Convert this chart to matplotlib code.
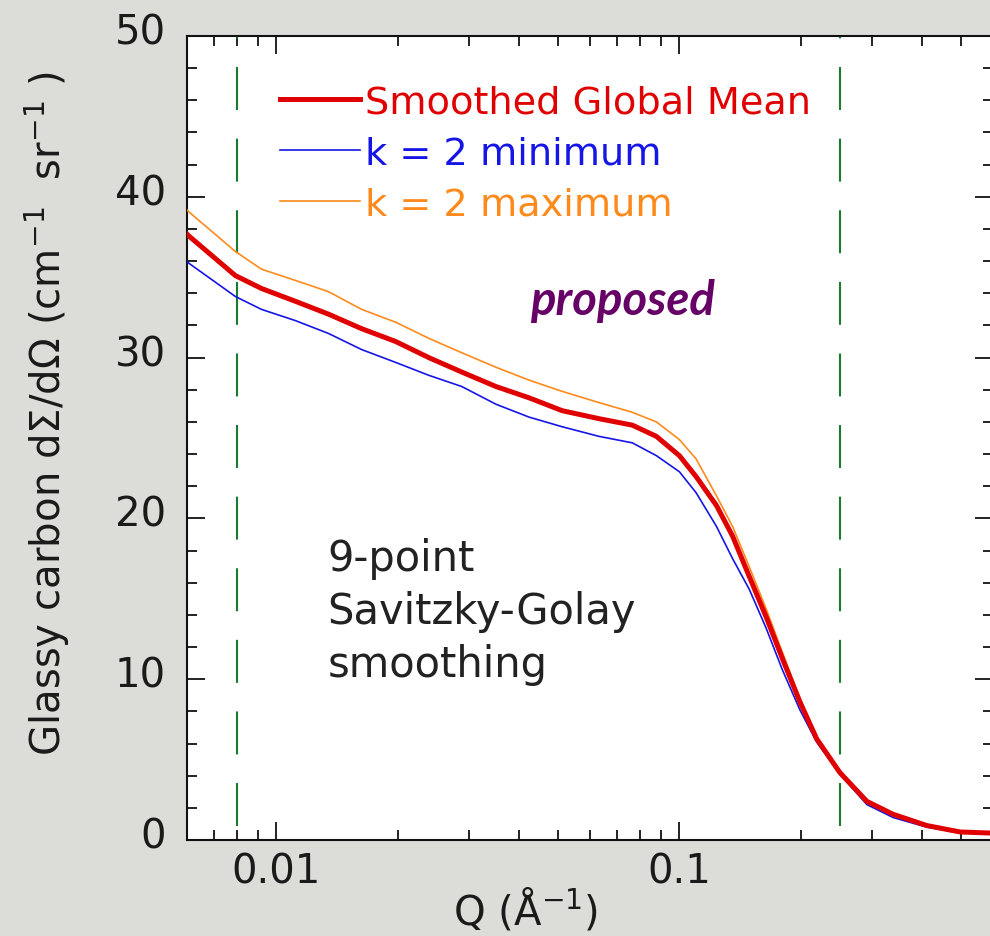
import matplotlib
matplotlib.use("Agg")
import matplotlib.pyplot as plt
from matplotlib.ticker import FixedLocator, NullFormatter, MultipleLocator
from matplotlib.transforms import ScaledTranslation

plt.rcParams['font.family'] = ['DejaVu Sans']
plt.rcParams['lines.scale_dashes'] = False

# ---- data ----
q = [0.00594, 0.00604, 0.00791, 0.00918, 0.01115, 0.01347, 0.01627, 0.01977, 0.02388,
     0.02885, 0.03506, 0.04235, 0.05117, 0.0632, 0.0764, 0.0877, 0.100, 0.110,
     0.1236, 0.1355, 0.149, 0.164, 0.180, 0.199, 0.219, 0.250, 0.292, 0.339,
     0.411, 0.497, 0.61]
mean = [37.8, 37.6, 35.1, 34.3, 33.5, 32.7, 31.8, 31.0, 30.0, 29.1, 28.2, 27.5, 26.7,
        26.2, 25.8, 25.1, 23.9, 22.6, 20.8, 18.9, 16.4, 13.9, 11.3, 8.6, 6.3, 4.2,
        2.4, 1.6, 0.9, 0.5, 0.42]
kmin = [36.1, 35.9, 33.8, 33.0, 32.3, 31.5, 30.5, 29.7, 28.9, 28.2, 27.1, 26.3, 25.7,
        25.1, 24.7, 23.9, 22.9, 21.6, 19.5, 17.5, 15.6, 13.2, 10.6, 8.1, 6.1, 4.1,
        2.2, 1.4, 0.8, 0.45, 0.38]
kmax = [39.3, 39.1, 36.6, 35.5, 34.8, 34.1, 33.0, 32.2, 31.2, 30.3, 29.4, 28.6, 27.9,
        27.2, 26.6, 26.0, 24.9, 23.7, 21.4, 19.5, 17.0, 14.4, 11.7, 8.8, 6.4, 4.2,
        2.4, 1.6, 0.9, 0.5, 0.42]
labels = ["Smoothed Global Mean", "k = 2 minimum", "k = 2 maximum"]
q_limits = [0.008, 0.25]

W, H = 990, 937
fig = plt.figure(figsize=(W / 100, H / 100), dpi=100)
fig.patch.set_facecolor('#dcdcd8')
ax = fig.add_axes([187 / W, 1 - 841 / H, 806 / W, 804 / H])
ax.set_facecolor('white')

ax.plot(q, mean, color='#e00000', lw=3.6, label=labels[0], zorder=4)
ax.plot(q, kmin, color='#1515e6', lw=1.2, label=labels[1], zorder=3)
ax.plot(q, kmax, color='#ff8a1c', lw=1.2, label=labels[2], zorder=3)
for ql in q_limits:
    ax.axvline(ql, color='#1a7a30', lw=1.5, ls=(41.5, (43 * 0.72, 28.6 * 0.72)), zorder=2)

ax.set_xscale('log')
ax.set_xlim(0.006, 0.6)
ax.set_ylim(0, 50)
ax.xaxis.set_major_locator(FixedLocator([0.01, 0.1, 1]))
ax.xaxis.set_minor_locator(FixedLocator([0.006, 0.007, 0.008, 0.009, 0.02, 0.03, 0.04, 0.05,
                                         0.06, 0.07, 0.08, 0.09, 0.2, 0.3, 0.4, 0.5, 0.6]))
ax.xaxis.set_minor_formatter(NullFormatter())
ax.set_xticklabels(['0.01', '0.1', '1'])
ax.yaxis.set_major_locator(MultipleLocator(10))
ax.yaxis.set_minor_locator(MultipleLocator(2))
ax.tick_params(which='both', direction='in', top=True, right=True, color='#111111', width=1.3)
ax.tick_params(which='major', length=13, labelsize=29, labelcolor='#1a1a1a')
ax.tick_params(which='minor', length=7)
ax.tick_params(axis='y', pad=15)
ax.tick_params(axis='x', pad=8)
for s in ax.spines.values():
    s.set_linewidth(1.5)
    s.set_color('#111111')

# y tick labels sit slightly above their ticks in the reference
shift = ScaledTranslation(0, 8 / 100, fig.dpi_scale_trans)
for lab in ax.get_yticklabels():
    lab.set_transform(lab.get_transform() + shift)

ax.set_ylabel('Glassy carbon d\u03a3/d\u03a9 (cm$^{\\mathregular{-1}}$  sr$^{\\mathregular{-1}}$ )',
              fontsize=29, color='#1a1a1a')
ax.yaxis.set_label_coords(-0.143, 0.531)
ax.set_xlabel('Q (\u00c5$^{\\mathregular{-1}}$)', fontsize=29, color='#1a1a1a')
ax.xaxis.set_label_coords(0.42, -0.057)

leg = ax.legend(loc='upper left', bbox_to_anchor=(0.115, 0.94), frameon=False,
                fontsize=27.5, handlelength=2.1, handletextpad=0.13, labelspacing=0.39,
                borderpad=0, borderaxespad=0, labelcolor='linecolor')

ax.text(0.54, 0.654, 'proposed', transform=ax.transAxes, fontsize=34,
        family=['Lato', 'DejaVu Sans'], fontstyle='italic', fontweight='bold',
        color='#660066', ha='center', va='baseline')
ax.text(0.174, 0.377, '9-point\nSavitzky-Golay\nsmoothing', transform=ax.transAxes,
        fontsize=30, color='#222222', ha='left', va='top', linespacing=1.34)

fig.savefig('out.png', dpi=100, facecolor=fig.get_facecolor())
